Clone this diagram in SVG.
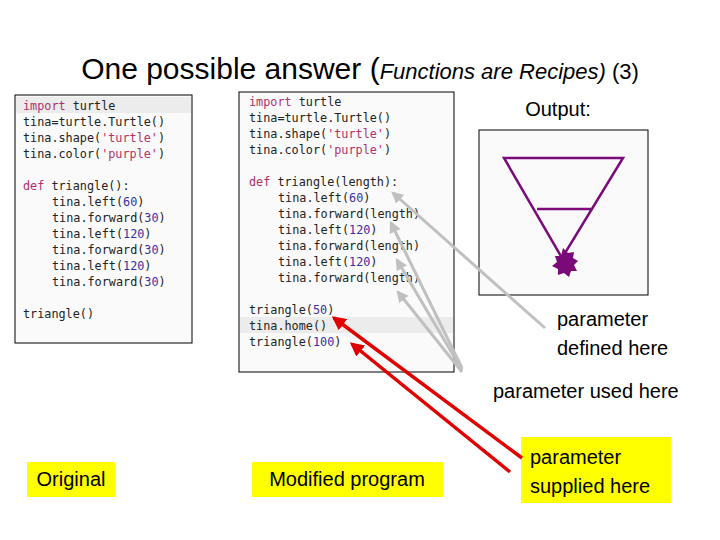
<svg xmlns="http://www.w3.org/2000/svg" width="720" height="540" viewBox="0 0 720 540">
<defs>
<style>
.c{font-family:"DejaVu Sans Mono",monospace;font-size:11.8px;fill:#222}
.k{fill:#b0306a}.s{fill:#b0306a}.n{fill:#3a2fa0}
.t{font-family:"Liberation Sans",Arial,sans-serif;fill:#000}
.box{fill:#fafafa;stroke:#000;stroke-width:1}
.y{fill:#ffff00}
.g{stroke:#c0c0c0;stroke-width:3;fill:none;marker-end:url(#ga)}
.r{stroke:#e00000;stroke-width:3.5;fill:none;marker-end:url(#ra)}
</style>
<marker id="ga" viewBox="0 0 10 10" refX="8" refY="5" markerWidth="4" markerHeight="4" orient="auto"><path d="M0,0L10,5L0,10z" fill="#c0c0c0"/></marker>
<marker id="ra" viewBox="0 0 10 10" refX="8" refY="5" markerWidth="4" markerHeight="4" orient="auto"><path d="M0,0L10,5L0,10z" fill="#e00000"/></marker>
</defs>
<rect width="720" height="540" fill="#fff"/>
<text class="t" x="360" y="79" text-anchor="middle"><tspan font-size="30">One possible answer (</tspan><tspan font-size="22" font-style="italic">Functions are Recipes)</tspan><tspan font-size="22"> (3)</tspan></text>
<g id="code1">
<rect class="box" x="15" y="95" width="177" height="248"/>
<rect x="16" y="97" width="175" height="16" fill="#ececec"/>
<text class="c" x="23" y="110"><tspan class="k">import</tspan> turtle</text>
<text class="c" x="23" y="126">tina=turtle.Turtle()</text>
<text class="c" x="23" y="142">tina.shape(<tspan class="s">'turtle'</tspan>)</text>
<text class="c" x="23" y="158">tina.color(<tspan class="s">'purple'</tspan>)</text>
<text class="c" x="23" y="190"><tspan class="k">def</tspan> triangle():</text>
<text class="c" x="52" y="206">tina.left(<tspan class="n">60</tspan>)</text>
<text class="c" x="52" y="222">tina.forward(<tspan class="n">30</tspan>)</text>
<text class="c" x="52" y="238">tina.left(<tspan class="n">120</tspan>)</text>
<text class="c" x="52" y="254">tina.forward(<tspan class="n">30</tspan>)</text>
<text class="c" x="52" y="270">tina.left(<tspan class="n">120</tspan>)</text>
<text class="c" x="52" y="286">tina.forward(<tspan class="n">30</tspan>)</text>
<text class="c" x="23" y="318">triangle()</text>
</g>
<g id="code2">
<rect class="box" x="239" y="92" width="215" height="280"/>
<rect x="240" y="317" width="213" height="16" fill="#ececec"/>
<text class="c" x="249" y="106"><tspan class="k">import</tspan> turtle</text>
<text class="c" x="249" y="122">tina=turtle.Turtle()</text>
<text class="c" x="249" y="138">tina.shape(<tspan class="s">'turtle'</tspan>)</text>
<text class="c" x="249" y="154">tina.color(<tspan class="s">'purple'</tspan>)</text>
<text class="c" x="249" y="186"><tspan class="k">def</tspan> triangle(length):</text>
<text class="c" x="278" y="202">tina.left(<tspan class="n">60</tspan>)</text>
<text class="c" x="278" y="218">tina.forward(length)</text>
<text class="c" x="278" y="234">tina.left(<tspan class="n">120</tspan>)</text>
<text class="c" x="278" y="250">tina.forward(length)</text>
<text class="c" x="278" y="266">tina.left(<tspan class="n">120</tspan>)</text>
<text class="c" x="278" y="282">tina.forward(length)</text>
<text class="c" x="249" y="314">triangle(<tspan class="n">50</tspan>)</text>
<text class="c" x="249" y="330">tina.home()</text>
<text class="c" x="249" y="346">triangle(<tspan class="n">100</tspan>)</text>
</g>
<g id="output">
<text class="t" x="558" y="116" font-size="20" text-anchor="middle">Output:</text>
<rect class="box" x="479" y="130" width="169" height="165"/>
<path d="M504,158H623L562,258Z M537,209H593" stroke="#7a0a7a" stroke-width="2.5" fill="none"/>
<path d="M563,248l5,5 6,-1 -1,6 5,3 -4,4 3,6 -6,0 -2,6 -5,-4 -6,2 0,-6 -6,-3 5,-4 -2,-6 6,0z" fill="#7a0a7a"/>
</g>
<g id="labels">
<text class="t" x="557" y="326" font-size="20">parameter</text>
<text class="t" x="557" y="355" font-size="20">defined here</text>
<text class="t" x="493" y="398" font-size="20">parameter used here</text>
<rect class="y" x="521" y="437" width="150" height="66"/>
<text class="t" x="530" y="464" font-size="20">parameter</text>
<text class="t" x="530" y="493" font-size="20">supplied here</text>
</g>
<g id="original"><rect class="y" x="27" y="462" width="88" height="35"/><text class="t" x="71" y="486" font-size="20" text-anchor="middle">Original</text></g>
<g id="modified"><rect class="y" x="252" y="462" width="191" height="35"/><text class="t" x="347" y="486" font-size="20" text-anchor="middle">Modified program</text></g>
<g id="connectors">
<path class="g" d="M545,328L393,193"/>
<path class="g" d="M462,368L391,223"/>
<path class="g" d="M462,370L397,260"/>
<path class="g" d="M462,372L398,292"/>
<path class="r" d="M522,458L334,318"/>
<path class="r" d="M510,472L352,344"/>
</g>
</svg>
